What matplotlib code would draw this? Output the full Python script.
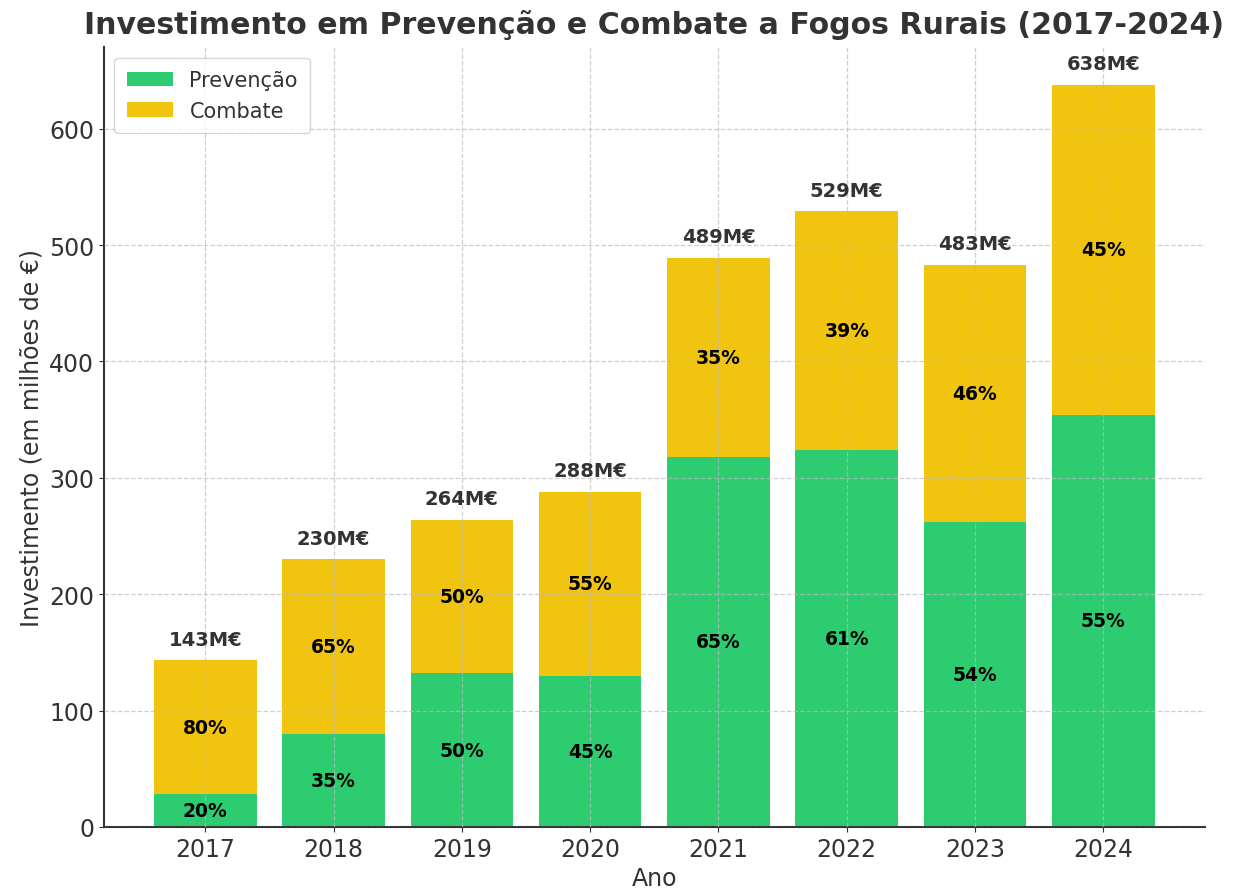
import matplotlib

matplotlib.use("Agg")
import matplotlib.pyplot as plt

years = ["2017", "2018", "2019", "2020", "2021", "2022", "2023", "2024"]
totals = [143, 230, 264, 288, 489, 529, 483, 638]
prevencao = [28, 80, 132, 130, 318, 324, 262, 354]
pct_prev = [20, 35, 50, 45, 65, 61, 54, 55]
pct_comb = [80, 65, 50, 55, 35, 39, 46, 45]

combate = [t - p for t, p in zip(totals, prevencao)]

GREEN = "#2ecc71"
YELLOW = "#f1c40f"
DARK = "#333333"

fig, ax = plt.subplots(figsize=(12.38, 8.95), dpi=100)
x = list(range(len(years)))
ax.bar(x, prevencao, width=0.8, color=GREEN, label="Prevenção", zorder=1)
ax.bar(x, combate, width=0.8, bottom=prevencao, color=YELLOW, label="Combate", zorder=1)

for i in x:
    ax.text(i, prevencao[i] / 2, f"{pct_prev[i]}%", ha="center", va="center",
            fontsize=13.5, fontweight="bold", color="black", zorder=3)
    ax.text(i, prevencao[i] + combate[i] / 2, f"{pct_comb[i]}%", ha="center", va="center",
            fontsize=13.5, fontweight="bold", color="black", zorder=3)
    ax.text(i, totals[i] + 10, f"{totals[i]}M€", ha="center", va="bottom",
            fontsize=14, fontweight="bold", color=DARK, zorder=3)

ax.set_xticks(x)
ax.set_xticklabels(years)
ax.set_ylim(0, 670)
ax.set_yticks([0, 100, 200, 300, 400, 500, 600])
ax.tick_params(labelsize=17, colors=DARK)
ax.set_xlabel("Ano", fontsize=17, color=DARK, labelpad=4)
ax.set_ylabel("Investimento (em milhões de €)", fontsize=17, color=DARK)
ax.set_title("Investimento em Prevenção e Combate a Fogos Rurais (2017-2024)",
             fontsize=21.6, fontweight="bold", color=DARK, pad=10)

ax.set_axisbelow(False)
ax.grid(True, linestyle="--", color="#bbbbbb", alpha=0.7, linewidth=0.9, zorder=2)
for side in ("top", "right"):
    ax.spines[side].set_visible(False)
for side in ("left", "bottom"):
    ax.spines[side].set_color(DARK)
    ax.spines[side].set_linewidth(1.5)

leg = ax.legend(loc="upper left", fontsize=15, frameon=True, handlelength=2.2,
                borderpad=0.6, labelspacing=0.5)
for t in leg.get_texts():
    t.set_color(DARK)

fig.subplots_adjust(left=0.084, right=0.973, bottom=0.075, top=0.946)
fig.savefig("out.png")
